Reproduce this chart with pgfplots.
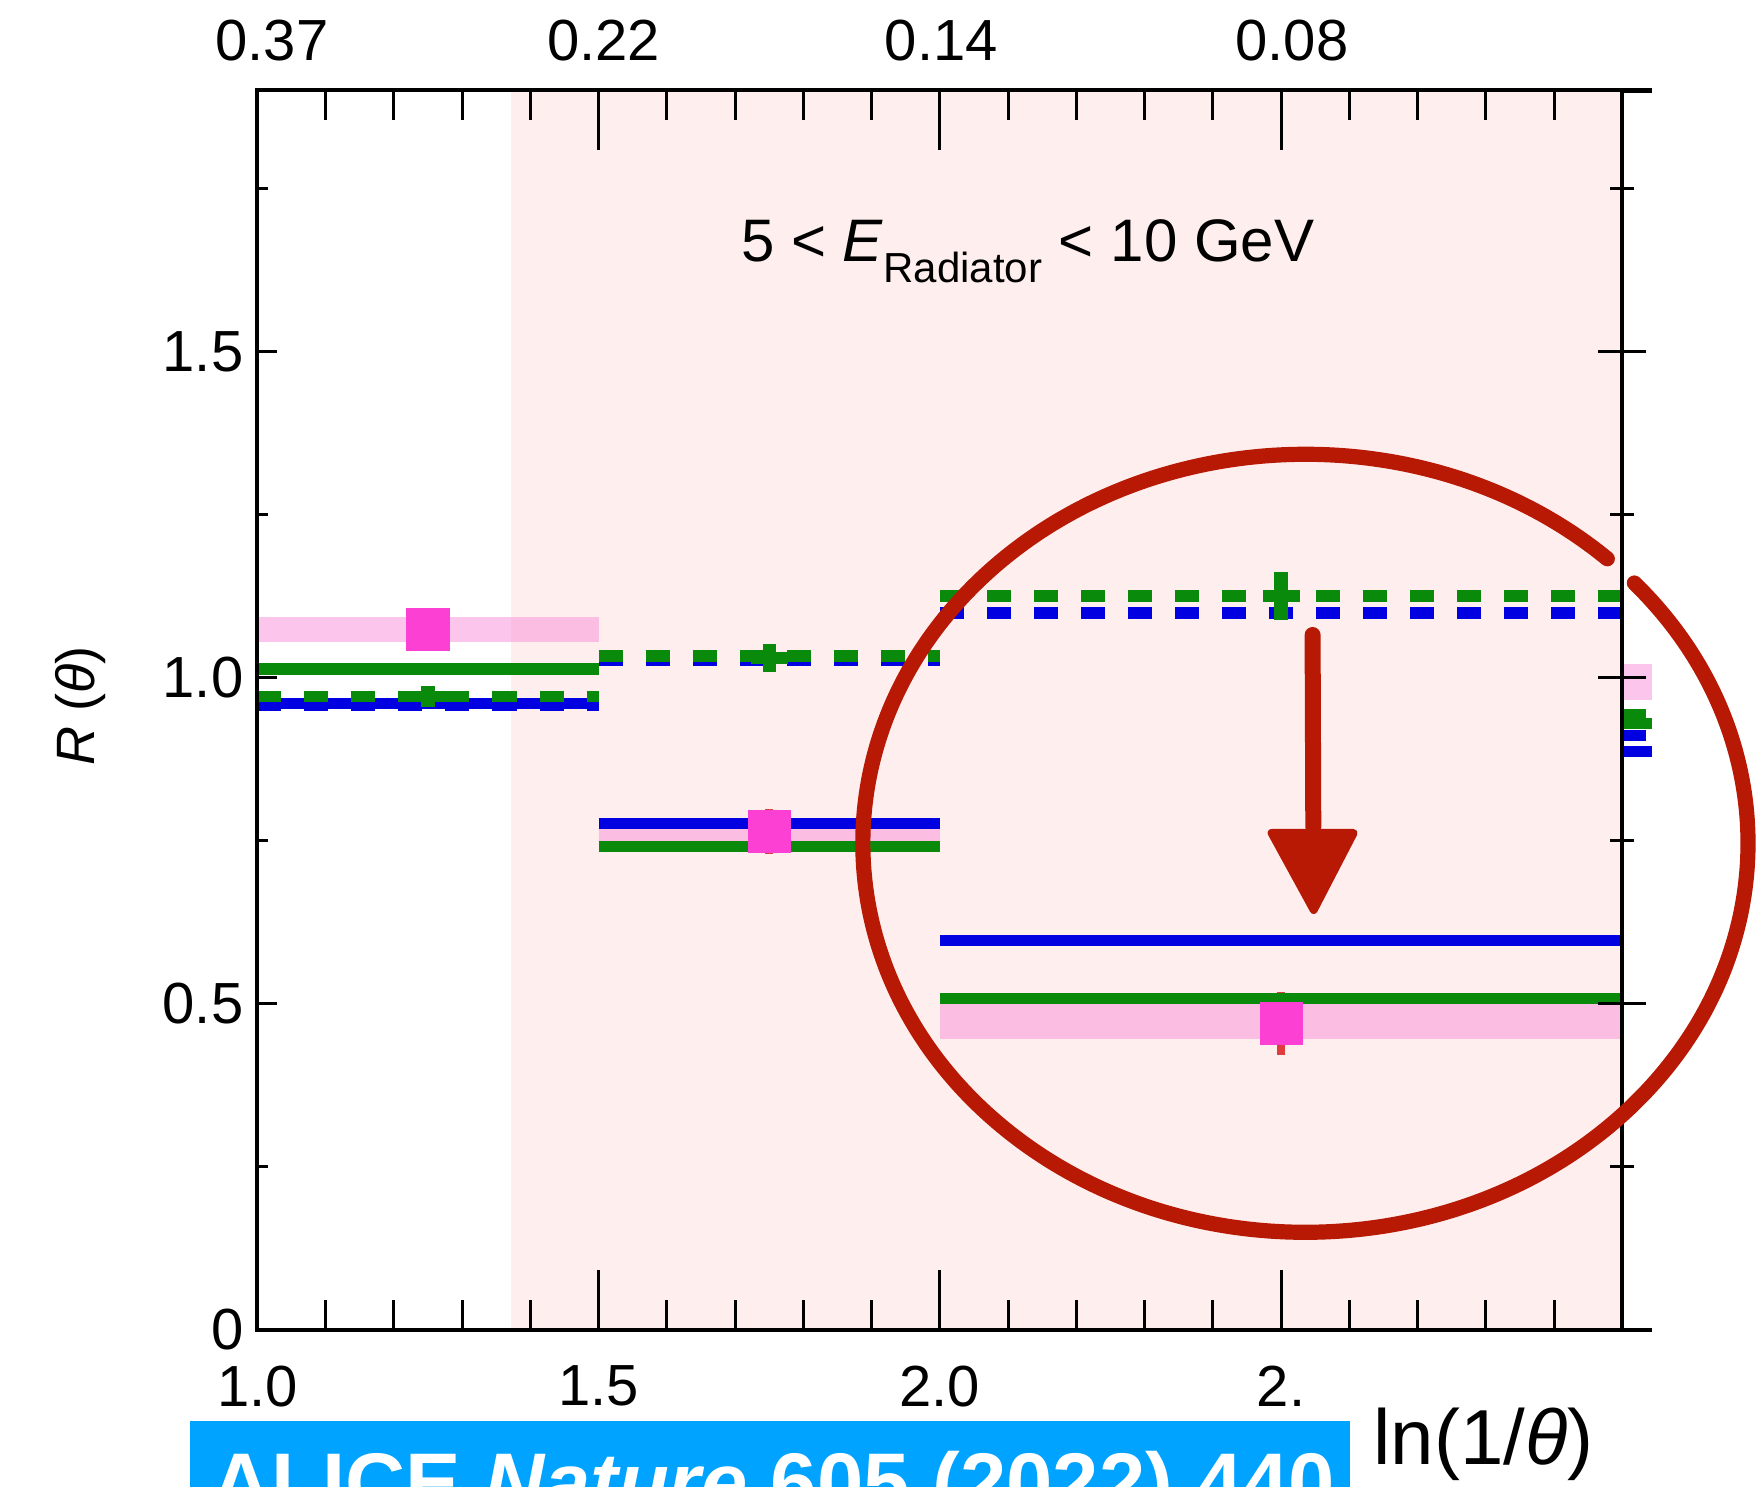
\documentclass[border=0pt]{standalone}
\usepackage{fontspec}
\setmainfont{Liberation Sans}
\usepackage{pgfplots}
\pgfplotsset{compat=1.18}
\definecolor{bgpink}{RGB}{254,239,238}
\definecolor{bandpink}{RGB}{250,140,215}
\definecolor{mymag}{RGB}{252,64,212}
\definecolor{mygreen}{RGB}{10,138,10}
\definecolor{myblue}{RGB}{0,0,225}
\definecolor{errred}{RGB}{225,60,60}
\definecolor{banner}{RGB}{0,163,255}
\definecolor{annot}{RGB}{183,25,5}

\pgfplotsset{
  common/.style={
    at={(0pt,0pt)}, anchor=south west,
    scale only axis, width=341.2pt, height=309.875pt,
    xmin=1, xmax=3, ymin=0, ymax=1.9,
    /pgf/number format/assume math mode=true,
    tick label style={font=\fontsize{14.5}{17}\selectfont},
    tick style={black, line width=0.75pt},
    axis line style={line width=1pt},
  },
  modline/.style={line width=2.85pt, line cap=butt},
  moddash/.style={line width=2.85pt, line cap=butt, dash pattern=on 6pt off 5.75pt},
  band/.style={fill=bandpink, fill opacity=0.5, draw=none},
}
\begin{document}
\begin{tikzpicture}
% main axis with data and x ticks
\begin{axis}[common, clip=false, axis on top,
  unbounded coords=jump,
  xtick={1,1.5,2,2.5}, xticklabels={1.0,1.5,2.0,2.},
  minor xtick={1.1,1.2,1.3,1.4,1.6,1.7,1.8,1.9,2.1,2.2,2.3,2.4,2.6,2.7,2.8,2.9},
  xtick pos=both, xticklabel pos=lower, tick align=inside,
  major tick length=15pt, minor tick length=7.5pt,
  ytick=\empty,
  xticklabel style={yshift=-5.4pt},
]
% shaded region
\addplot[fill=bgpink, draw=none] coordinates {(1.372,0) (3,0) (3,1.9) (1.372,1.9)} -- cycle;
% data systematic bands
\addplot[band] coordinates {(1,1.0546) (1.5,1.0546) (1.5,1.093) (1,1.093)} -- cycle;
\addplot[band] coordinates {(1.5,0.738) (2,0.738) (2,0.784) (1.5,0.784)} -- cycle;
\addplot[band] coordinates {(2,0.446) (3,0.446) (3,0.505) (2,0.505)} -- cycle;
\addplot[band] coordinates {(3,0.966) (3.043,0.966) (3.043,1.021) (3,1.021)} -- cycle;
% data points
\addplot[mymag, only marks, mark=square*, mark size=5.25pt,
  mark options={solid, fill=mymag, draw=mymag, line width=0.3pt},
  error bars/.cd, y dir=both, y explicit, error mark=none,
  error bar style={line width=2pt, errred}]
  coordinates {(1.25,1.074) +- (0,0.02) (1.75,0.764) +- (0,0.034) (2.5,0.470) +- (0,0.048)};
% blue solid
\addplot[modline, myblue] coordinates {(1,0.960) (1.5,0.960) (1.5,nan) (1.5,0.776) (2,0.776) (2,nan) (2,0.597) (3,0.597) (3,nan) (3,0.8865) (3.043,0.8865)};
% green solid
\addplot[modline, mygreen] coordinates {(1,1.013) (1.5,1.013) (1.5,nan) (1.5,0.741) (2,0.741) (2,nan) (2,0.508) (3,0.508) (3,nan) (3,0.930) (3.043,0.930)};
% blue dashed
\addplot[moddash, myblue] coordinates {(1,0.958) (1.5,0.958) (1.5,nan) (1.5,1.027) (2,1.027) (2,nan) (2,1.099) (3,1.099) (3,nan) (3,0.911) (3.043,0.911)};
% green dashed
\addplot[moddash, mygreen] coordinates {(1,0.971) (1.5,0.971) (1.5,nan) (1.5,1.033) (2,1.033) (2,nan) (2,1.125) (3,1.125) (3,nan) (3,0.943) (3.043,0.943)};
% green error crosses
\addplot[only marks, mark=-, mark size=4.6pt, mygreen, mark options={line width=2.85pt, mygreen},
  error bars/.cd, y dir=both, y explicit, error mark=none,
  error bar style={line width=3.4pt, mygreen}]
  coordinates {(1.25,0.971) +- (0,0.016) (1.75,1.03) +- (0,0.022) (2.5,1.125) +- (0,0.037)};
\end{axis}
% left y axis
\begin{axis}[common, axis x line=none, axis y line*=left, tick align=inside,
  ytick={0,0.5,1,1.5}, yticklabels={0,0.5,1.0,1.5},
  minor ytick={0.25,0.75,1.25,1.75},
  major tick length=5pt, minor tick length=2.75pt]
\end{axis}
% right y ticks and top labels
\begin{axis}[common, axis x line*=top, axis y line*=right, tick align=center,
  xtick={1.021,1.507,2.002,2.516}, xticklabels={0.37,0.22,0.14,0.08},
  xtick style={draw=none},
  xticklabel style={yshift=-2.2pt},
  ytick={0,0.5,1,1.5}, yticklabels={,,,},
  yticklabel style={text opacity=0},
  minor ytick={0.25,0.75,1.25,1.75},
  major tick length=12pt, minor tick length=6pt]
\end{axis}
% annotations in image pixel coordinates (origin bottom-left)
\begin{scope}[x=0.25pt, y=0.25pt, shift={(-64.375pt,-39.25pt)}]
\begin{scope}
\clip (0,0) rectangle (1757,1487);
\draw[line width=1.1pt] (1621,1396.5) -- (1651.7,1396.5);
\draw[line width=1pt] (1621,157) -- (1651.7,157);
\node[anchor=base, inner sep=0pt, font=\fontsize{15}{18}\selectfont] at (1027.7,1225.3)
  {5 < \textit{E}\raisebox{-5.3pt}{\fontsize{10.5}{12}\selectfont Radiator} < 10 GeV};
\node[rotate=90, inner sep=0pt, font=\fontsize{13.5}{16}\selectfont] at (81,781) {\textit{R} (\textit{θ})};
\node[anchor=base west, inner sep=0pt, font=\fontsize{19.5}{23}\selectfont] at (1372.6,22) {ln(1/\textit{θ})};
\fill[banner] (190.5,-10) rectangle (1350,66.2);
\node[anchor=base west, inner sep=0pt, text=white, font=\fontsize{20.8}{25}\selectfont\bfseries] at (210.6,-24.5)
  {ALICE \textit{Nature} 605 (2022) 440};
\draw[annot, line width=3.8pt, line cap=round] (1607.3,928.2) arc[start angle=47, end angle=402, x radius=442.6, y radius=389];
\draw[annot, line width=4pt, line cap=round] (1312.6,852) -- (1313.3,660);
\filldraw[annot, line width=2pt, line join=round] (1271.6,654) -- (1353.6,654) -- (1313.7,577) -- cycle;
\end{scope}
\end{scope}
\pgfresetboundingbox
\path[use as bounding box] (-64.375pt,-39.25pt) rectangle ++(439.25pt,371.75pt);
\end{tikzpicture}
\end{document}
